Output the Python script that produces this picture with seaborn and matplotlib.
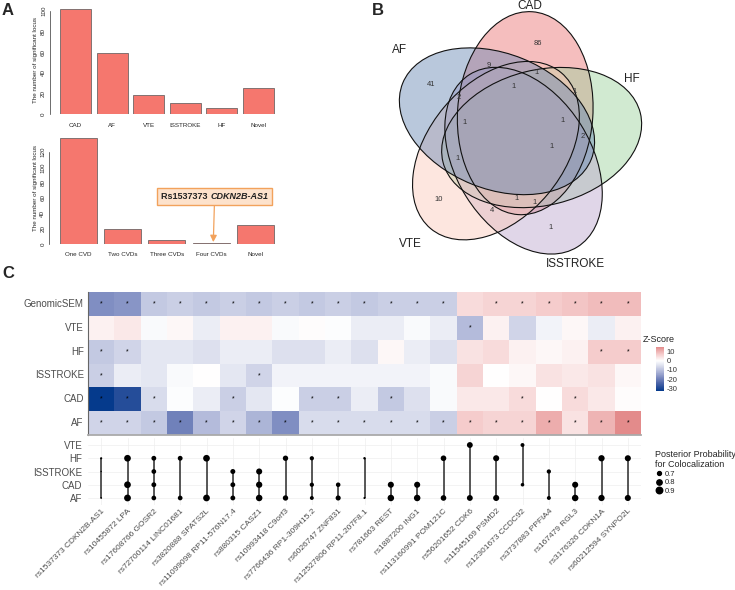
import numpy as np
import pandas as pd
import matplotlib
matplotlib.use("Agg")
import matplotlib.pyplot as plt
import seaborn as sns
from matplotlib.patches import Ellipse
from matplotlib.colors import LinearSegmentedColormap
from matplotlib.offsetbox import TextArea, HPacker, AnnotationBbox
from matplotlib.lines import Line2D

sns.set_style("white")
plt.rcParams["font.family"] = ["Liberation Sans", "DejaVu Sans"]

# ---- panel A data ----
cvd_names = ["CAD", "AF", "VTE", "ISSTROKE", "HF", "Novel"]
cvd_loci = [102, 59, 19, 11, 6, 25]
shared_names = ["One CVD", "Two CVDs", "Three CVDs", "Four CVDs", "Novel"]
shared_loci = [138, 20, 5, 1, 25]

# ---- panel B data ----
venn_sets = ["CAD", "HF", "ISSTROKE", "VTE", "AF"]
venn_colors = ["#eb6f6f", "#9bd19b", "#bba5cd", "#fbc9b9", "#6585b3"]
venn_counts = [86, 41, 9, 1, 1, 2, 1, 1, 2, 1, 1, 1, 10, 4, 1, 1, 1]
venn_count_xy = [(503, 130), (183, 255), (357, 197), (500, 218), (432, 260),
                 (265, 292), (613, 275), (578, 363), (637, 410), (283, 368),
                 (545, 440), (262, 475), (207, 598), (367, 632), (440, 595),
                 (495, 607), (543, 683)]
venn_label_xy = [(478, 18), (787, 237), (616, 792), (122, 733), (88, 150)]

# ---- panel C data ----
snps = ["rs1537373 CDKN2B-AS1", "rs10455872 LPA", "rs17608766 GOSR2",
        "rs72700114 LINC01681", "rs3820888 SPATS2L", "rs11099098 RP11-576N17.4",
        "rs880315 CASZ1", "rs10993418 C9orf3", "rs7766436 RP1-309H15.2",
        "rs6026747 ZNF831", "rs12527806 RP11-207F8.1", "rs781663 REST",
        "rs1887200 ING1", "rs113160991 POM121C", "rs56201652 CDK6",
        "rs11545169 PSMD2", "rs12301673 CCDC92", "rs3737883 PPFIA4",
        "rs167479 RGL3", "rs3176326 CDKN1A", "rs60212594 SYNPO2L"]
traits = ["GenomicSEM", "VTE", "HF", "ISSTROKE", "CAD", "AF"]

z_genomicsem = [-18, -17, -9, -8, -9, -8, -9, -8, -9, -8, -9, -8, -8, -8, 5, 6, 6, 7, 8, 9, 9]
z_vte = [2, 3, -1, 1, -3, 2, 2, -1, 0.5, -0.5, -3, -3, -1, -3, -11, 2, -7, -2, 1, -3, 2]
z_hf = [-9, -7, -4, -4, -5, -3, -3, -5, -5, -3, -5, 1, -3, -5, 4, 5, 2, 1, 2, 7, 7]
z_isstroke = [-8, -3, -4, -1, 0, -4, -7, -2, -2, -2, -2, -2, -2, -1, 6, 0, 1, 4, 3, 4, 1]
z_cad = [-33, -29, -6, -0.5, -3, -8, -4, -0.5, -8, -8, -3, -9, -5, -1, 3, 3, 5, 0, 5, 3, 0.5]
z_af = [-7, -7, -9, -20, -11, -7, -12, -18, -6, -6, -6, -6, -6, -8, 7, 6, 6, 11, 4, 10, 15]

sig_genomicsem = [1] * 14 + [0] + [1] * 6
sig_vte = [0] * 14 + [1] + [0] * 6
sig_hf = [1, 1] + [0] * 17 + [1, 1]
sig_isstroke = [1, 0, 0, 0, 0, 0, 1] + [0] * 14
sig_cad = [1, 1, 1, 0, 0, 1, 0, 0, 1, 1, 0, 1, 0, 0, 0, 0, 1, 0, 1, 0, 0]
sig_af = [1] * 21

dot_traits = ["VTE", "HF", "ISSTROKE", "CAD", "AF"]
coloc_col = [1, 1, 1, 2, 2, 2, 3, 3, 3, 3, 4, 4, 5, 5, 6, 6, 6, 7, 7, 7, 8, 8,
             9, 9, 9, 10, 10, 11, 11, 12, 12, 13, 13, 14, 14, 15, 15, 16, 16,
             17, 17, 18, 18, 19, 19, 20, 20, 21, 21]
coloc_trait = ["HF", "ISSTROKE", "AF", "HF", "CAD", "AF", "HF", "ISSTROKE", "CAD", "AF",
               "HF", "AF", "HF", "AF", "ISSTROKE", "CAD", "AF", "ISSTROKE", "CAD", "AF",
               "HF", "AF", "HF", "CAD", "AF", "CAD", "AF", "HF", "AF", "CAD", "AF",
               "CAD", "AF", "HF", "AF", "VTE", "AF", "HF", "AF", "VTE", "CAD",
               "ISSTROKE", "AF", "CAD", "AF", "HF", "AF", "HF", "AF"]
coloc_pp = [0.62, 0.6, 0.61, 0.92, 0.92, 0.93, 0.76, 0.75, 0.76, 0.75,
            0.76, 0.75, 0.92, 0.92, 0.77, 0.76, 0.76, 0.86, 0.88, 0.9,
            0.8, 0.8, 0.72, 0.72, 0.7, 0.74, 0.78, 0.63, 0.62, 0.86, 0.9,
            0.86, 0.9, 0.82, 0.82, 0.84, 0.84, 0.86, 0.86, 0.7, 0.68,
            0.72, 0.7, 0.86, 0.9, 0.88, 0.88, 0.86, 0.86]

W, H = 735, 590
GREY = "#4d4d4d"
BAR = "#F5776E"


def box(x0, y0, x1, y1):
    return [x0 / W, 1 - y1 / H, (x1 - x0) / W, (y1 - y0) / H]


def base_bar_axes(ax, ymax, top):
    for s in ["top", "right", "bottom"]:
        ax.spines[s].set_visible(False)
    ax.spines["left"].set_bounds(0, top)
    ax.spines["left"].set_position(("outward", 5))
    ax.spines["left"].set_linewidth(0.5)
    ax.spines["left"].set_color("#333333")
    ax.set_ylim(0, ymax)
    ax.set_yticks(range(0, top + 1, 20))
    ax.tick_params(axis="y", length=2, width=0.5, labelsize=4.5, pad=1, labelrotation=90)
    ax.tick_params(axis="x", length=0, labelsize=4.5, pad=6)
    for t in ax.get_yticklabels():
        t.set_va("center")
    ax.set_xlabel("")
    ax.set_ylabel("The number of significant locus", fontsize=4.5, labelpad=2)


fig = plt.figure(figsize=(7.35, 5.9), dpi=100)

# ---- A top ----
ax1 = fig.add_axes(box(57.2, 5.5, 276.8, 114.3))
sns.barplot(x=cvd_names, y=cvd_loci, color=BAR, saturation=1, width=0.85,
            edgecolor="#555555", linewidth=0.5, ax=ax1)
ax1.set_xlim(-0.5, 5.5)
base_bar_axes(ax1, 105, 100)

# ---- A bottom ----
ax2 = fig.add_axes(box(56.4, 132.8, 277.4, 244))
sns.barplot(x=shared_names, y=shared_loci, color=BAR, saturation=1, width=0.84,
            edgecolor="#555555", linewidth=0.5, ax=ax2)
ax2.set_xlim(-0.5, 4.5)
base_bar_axes(ax2, 145, 120)

note = HPacker(children=[
    TextArea("Rs1537373 ", textprops=dict(fontsize=6.5, weight="bold", color="#222222")),
    TextArea("CDKN2B-AS1", textprops=dict(fontsize=6.5, weight="bold", style="italic", color="#222222")),
], pad=0, sep=0)
ab = AnnotationBbox(note, xy=(3.05, 2.5), xycoords="data",
                    xybox=(3.08, 62), boxcoords="data", pad=0.45,
                    bboxprops=dict(facecolor="#fde2cc", edgecolor="#f2a25c", linewidth=1.0, boxstyle="square"),
                    arrowprops=dict(arrowstyle="-|>", color="#f2a25c", lw=0.9, mutation_scale=7,
                                    shrinkA=0, shrinkB=0))
ax2.add_artist(ab)

# ---- B venn ----
ax3 = fig.add_axes(box(370, 0, 735, 290))
ax3.set_xlim(0, 1095)
ax3.set_ylim(870, 0)
ax3.axis("off")
vc, vd, veps, va, vb, vbase = (440, 410), 75, 16, 203, 305, 4


def venn_ellipse(k, **kw):
    beta = vbase + 72 * k
    phi = np.radians(beta + veps)
    cx = vc[0] + vd * np.sin(phi)
    cy = vc[1] - vd * np.cos(phi)
    return Ellipse((cx, cy), 2 * va, 2 * vb, angle=beta, **kw)


for k in range(len(venn_sets)):
    ax3.add_patch(venn_ellipse(k, facecolor=venn_colors[k], alpha=0.45, edgecolor="none"))
for k in range(len(venn_sets)):
    ax3.add_patch(venn_ellipse(k, fill=False, edgecolor="#111111", linewidth=0.8))
for n, (x, y) in zip(venn_counts, venn_count_xy):
    ax3.text(x, y, str(n), fontsize=5.5, ha="center", va="center", color="#333333")
for name, (x, y) in zip(venn_sets, venn_label_xy):
    ax3.text(x, y, name, fontsize=8.5, ha="center", va="center", color="#222222")

# ---- C heatmap ----
zdf = pd.DataFrame([z_genomicsem, z_vte, z_hf, z_isstroke, z_cad, z_af],
                   index=traits, columns=snps)
sig = np.array([sig_genomicsem, sig_vte, sig_hf, sig_isstroke, sig_cad, sig_af])
stars = np.where(sig == 1, "*", "")

cmap = LinearSegmentedColormap.from_list("z", [
    (0.0, "#053a8c"), (0.125, "#4a63a8"), (0.25, "#8c98c8"), (0.375, "#c8cde4"),
    (0.5, "#ffffff"), (0.625, "#f3c4c4"), (0.75, "#e08080"), (0.875, "#cc4a4a"),
    (1.0, "#b21a1a")])

axh = fig.add_axes(box(88, 292, 641, 435))
cax = fig.add_axes(box(656, 347, 664, 391))
sns.heatmap(zdf, ax=axh, cmap=cmap, center=0, vmin=-33, vmax=15, cbar_ax=cax,
            annot=stars, fmt="", annot_kws=dict(fontsize=5, color="black"),
            xticklabels=False, yticklabels=True)
axh.set_xlabel("")
axh.set_ylabel("")
axh.tick_params(axis="y", length=2, width=0.5, color="#666666", labelsize=7,
                labelcolor=GREY, pad=1, labelrotation=0)
axh.spines["left"].set_visible(True)
axh.spines["left"].set_color("#666666")
axh.spines["left"].set_linewidth(0.8)
axh.spines["bottom"].set_visible(True)
axh.spines["bottom"].set_color("#aaaaaa")
axh.spines["bottom"].set_linewidth(1.3)
cbar_ticks = [10, 0, -10, -20, -30]
cax.set_yticks(cbar_ticks)
cax.set_yticklabels([str(t) for t in cbar_ticks])
cax.tick_params(length=0, labelsize=5.5, pad=2, labelcolor="#333333")
fig.text(643 / W, 1 - 339 / H, "Z-Score", fontsize=6.5, color="#222222", va="center")

# ---- C colocalization dots ----
axd = fig.add_axes(box(88, 438, 641, 505))
dots = pd.DataFrame({"col": coloc_col, "trait": coloc_trait, "pp": coloc_pp})
ypos = {t: len(dot_traits) - 1 - i for i, t in enumerate(dot_traits)}
dots["x"] = dots["col"] - 0.5
dots["y"] = dots["trait"].map(ypos)
axd.set_xlim(0, len(snps))
axd.set_ylim(-0.53, 4.53)
for x in np.arange(len(snps)) + 0.5:
    axd.axvline(x, color="#eeeeee", lw=0.5, zorder=0)
for y in range(len(dot_traits)):
    axd.axhline(y, color="#eeeeee", lw=0.5, zorder=0)
span = dots.groupby("x")["y"].agg(["min", "max"]).reset_index()
axd.vlines(span["x"], span["min"], span["max"], color="#2b2b2b", lw=1.1, zorder=1)
smin, smax, pmin, pmax = 1, 24, 0.6, 0.93
sns.scatterplot(data=dots, x="x", y="y", size="pp", sizes=(smin, smax),
                size_norm=(pmin, pmax), color="black", linewidth=0,
                legend=False, ax=axd, zorder=2)
for s in axd.spines.values():
    s.set_visible(False)
axd.set_xlabel("")
axd.set_ylabel("")
axd.set_yticks(list(ypos.values()))
axd.set_yticklabels(list(ypos.keys()))
axd.set_xticks(np.arange(len(snps)) + 0.5)
axd.set_xticklabels(snps, rotation=45, ha="right", va="top", rotation_mode="anchor")
axd.tick_params(axis="both", length=0, labelsize=7, labelcolor=GREY)
axd.tick_params(axis="y", pad=4)
axd.tick_params(axis="x", labelsize=6.0, pad=2)

handles = []
for v in [0.7, 0.8, 0.9]:
    s = smin + (smax - smin) * (v - pmin) / (pmax - pmin)
    handles.append(Line2D([], [], marker="o", linestyle="", color="black",
                          markersize=np.sqrt(s), label=f"{v}"))
leg = fig.legend(handles=handles, title="Posterior Probability\nfor Colocalization",
                 loc="upper left", bbox_to_anchor=(652 / W, 1 - 447 / H), frameon=False,
                 fontsize=5.5, title_fontsize=6.5, handletextpad=0.3, labelspacing=0.15,
                 handlelength=1.0, borderaxespad=0, alignment="left")

# ---- panel letters ----
fig.text(2 / W, 1 - 3 / H, "A", fontsize=12, weight="bold", va="top")
fig.text(372 / W, 1 - 3 / H, "B", fontsize=12, weight="bold", va="top")
fig.text(2 / W, 1 - 266 / H, "C", fontsize=12, weight="bold", va="top")

fig.savefig("out.png", dpi=100)
